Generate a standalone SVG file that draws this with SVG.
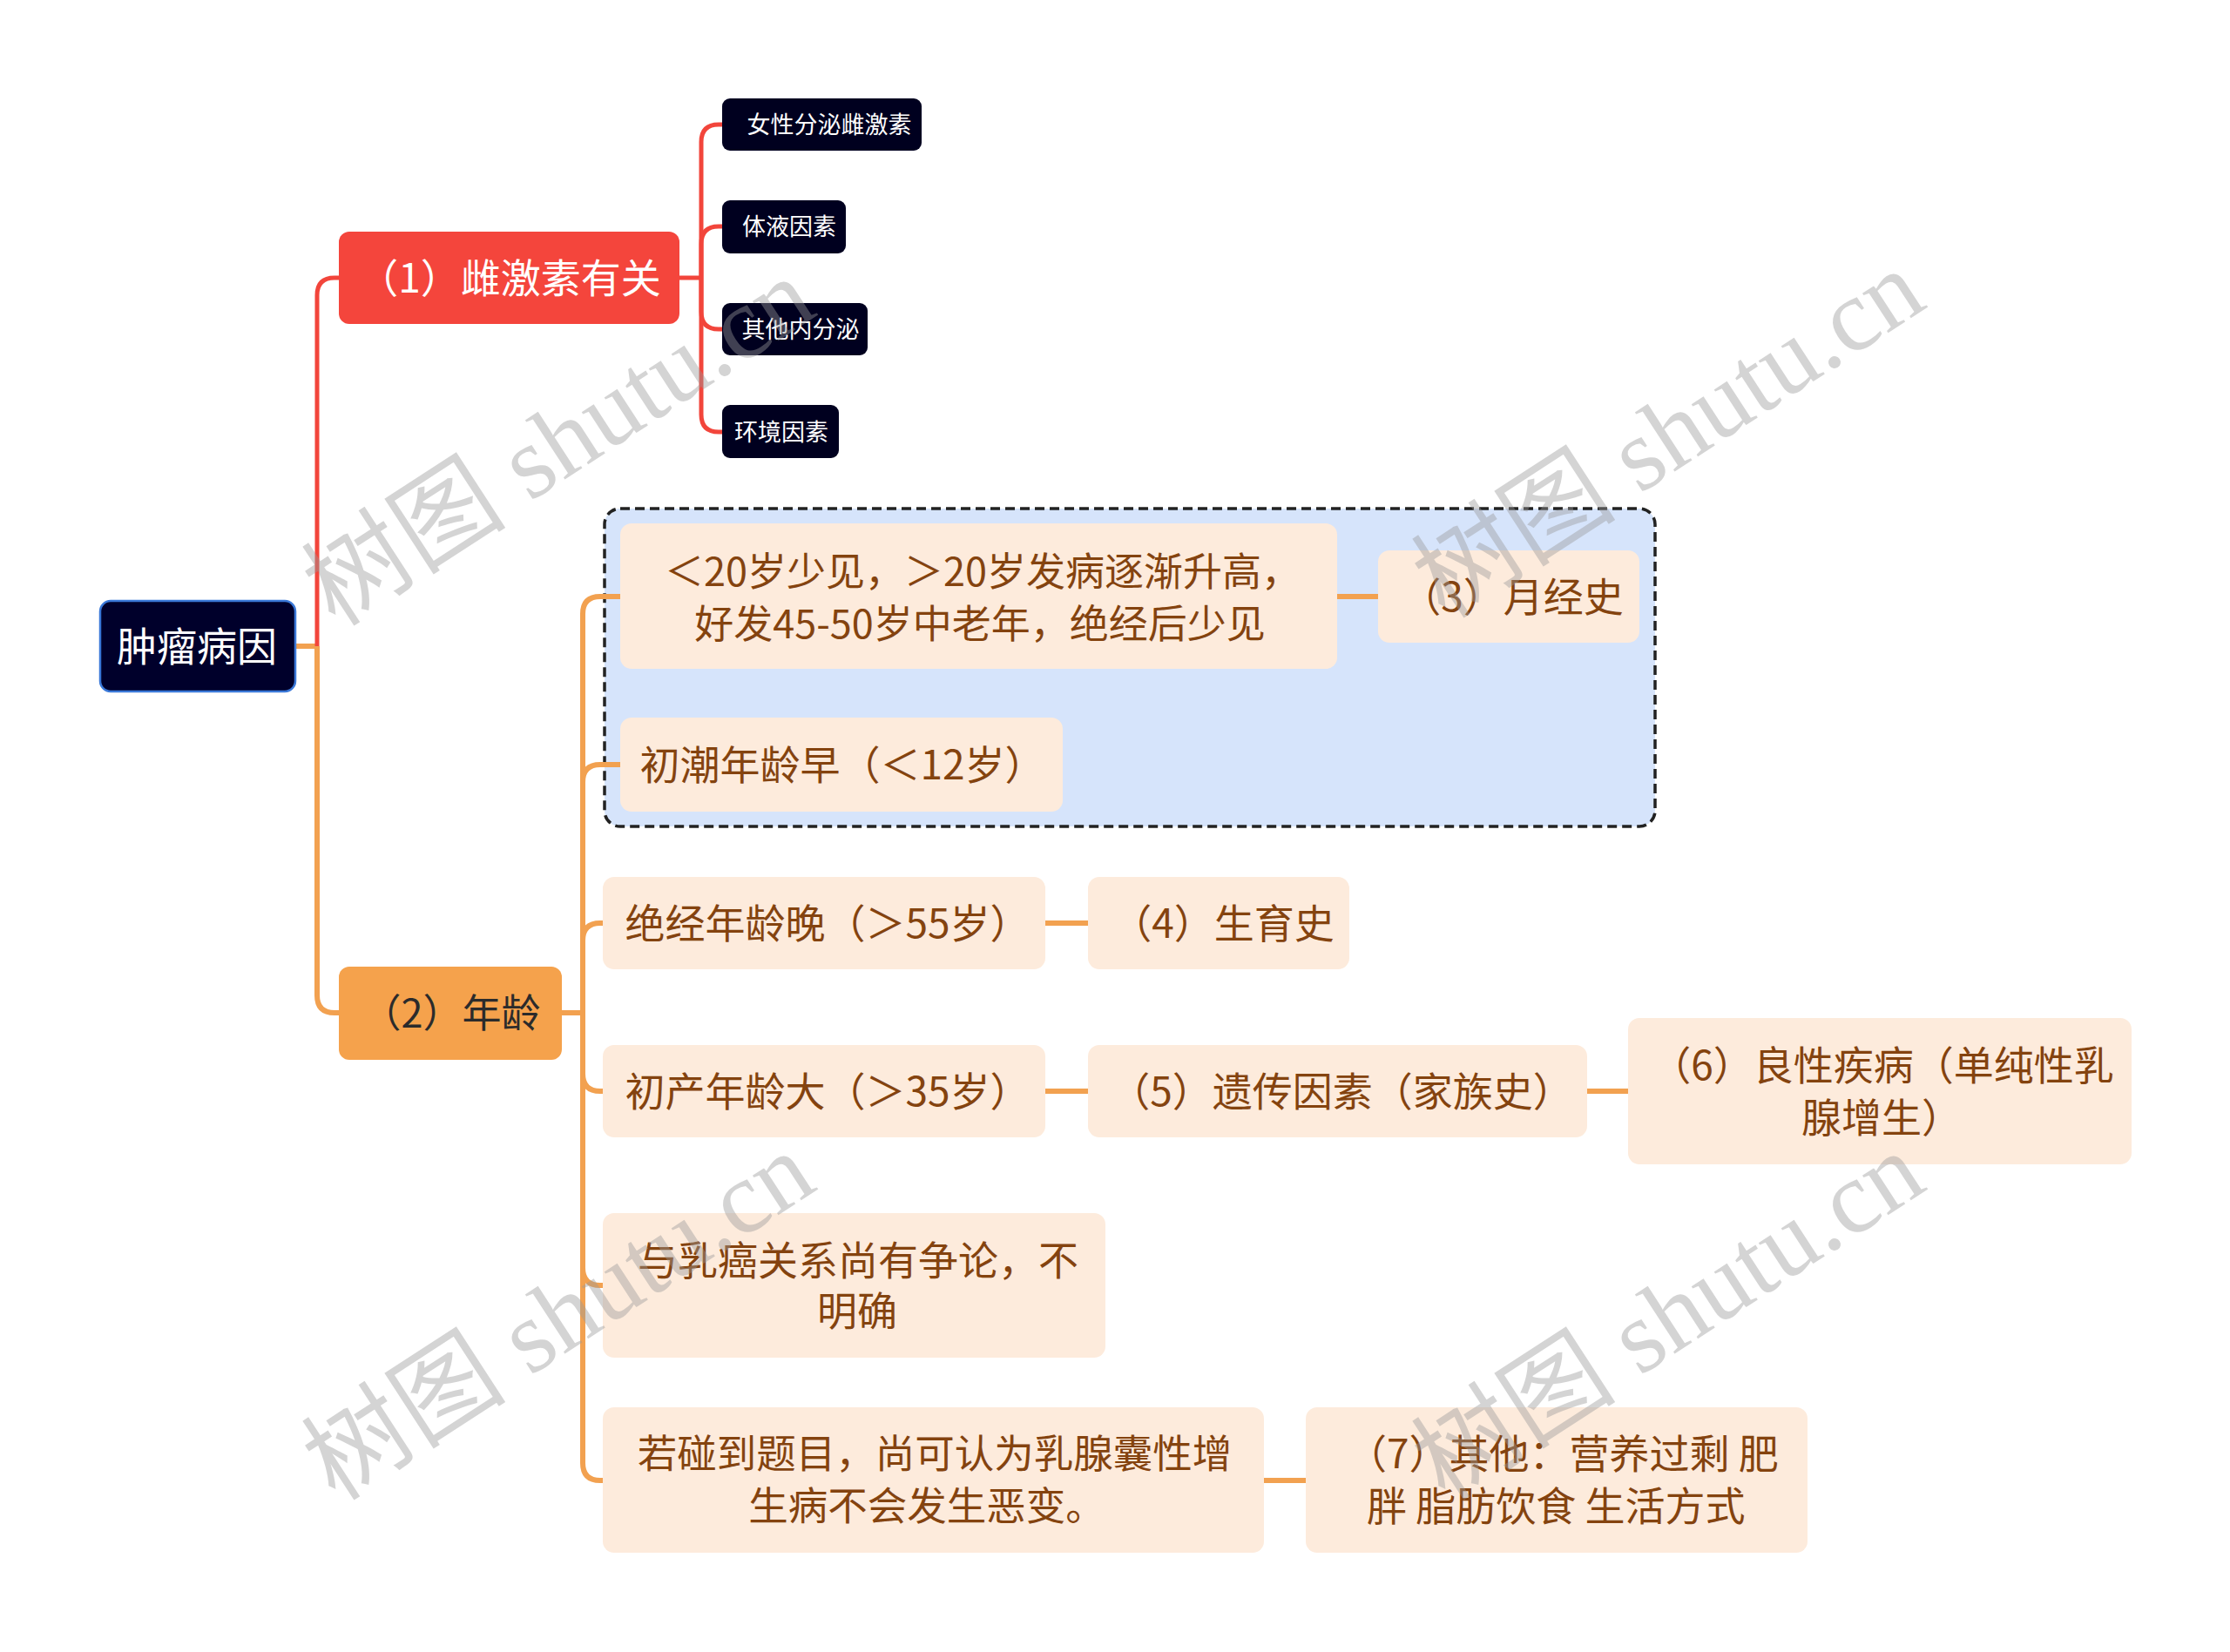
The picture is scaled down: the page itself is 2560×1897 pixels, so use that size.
<svg xmlns="http://www.w3.org/2000/svg" width="2560" height="1897" viewBox="0 0 2560 1897">
<style>
text{font-family:"Noto Sans CJK SC","Noto Sans",sans-serif;text-anchor:middle;dominant-baseline:central}
.wt{fill:#ffffff}
.dk{fill:#2b2b2b}
.br{fill:#84430f}
.peach{fill:#fdebdc}
.dn{fill:#00001f}
.red{fill:none;stroke:#f2453b;stroke-width:5;stroke-linejoin:round}
.org{fill:none;stroke:#f2a150;stroke-width:6;stroke-linejoin:round}
.wm{font-family:"Liberation Serif","Noto Sans CJK SC",serif;font-size:118px;fill:#9a9a9a;opacity:0.42;dominant-baseline:alphabetic}
</style>
<rect width="2560" height="1897" fill="#ffffff"/>

<g id="summary-boundary">
<rect x="694" y="584" width="1206" height="365" rx="18" fill="#d6e4fb" stroke="#222222" stroke-width="3.5" stroke-dasharray="11 6"/>
</g>

<g id="connectors">
<path class="org" d="M340,742 H364"/>
<path class="red" d="M364,742 V339 Q364,319 384,319 H389"/>
<path class="org" d="M364,742 V1143 Q364,1163 384,1163 H389"/>
<path class="red" d="M780,319 H805"/>
<path class="red" d="M805,319 V163 Q805,143 825,143 H829"/>
<path class="red" d="M805,319 V280 Q805,260 825,260 H829"/>
<path class="red" d="M805,319 V358 Q805,378 825,378 H829"/>
<path class="red" d="M805,319 V476 Q805,496 825,496 H829"/>
<path class="org" d="M645,1163 H669"/>
<path class="org" d="M669,1163 V705 Q669,685 689,685 H712"/>
<path class="org" d="M669,1163 V898 Q669,878 689,878 H712"/>
<path class="org" d="M669,1163 V1080 Q669,1060 689,1060 H692"/>
<path class="org" d="M669,1163 V1233 Q669,1253 689,1253 H692"/>
<path class="org" d="M669,1163 V1456 Q669,1476 689,1476 H692"/>
<path class="org" d="M669,1163 V1680 Q669,1700 689,1700 H692"/>
<path class="org" d="M1535,685 H1582"/>
<path class="org" d="M1200,1060 H1249"/>
<path class="org" d="M1200,1253 H1249"/>
<path class="org" d="M1822,1253 H1869"/>
<path class="org" d="M1451,1700 H1499"/>
</g>

<g id="root">
<rect x="115" y="690" width="224" height="104" rx="12" fill="#00002b" stroke="#3a78d8" stroke-width="2.5"/>
<text class="wt" x="226" y="739" font-size="46">肿瘤病因</text>
</g>

<g id="n1">
<rect x="389" y="266" width="391" height="106" rx="12" fill="#f4453c"/>
<text class="wt" x="585" y="316" font-size="46">（1）雌激素有关</text>
</g>
<g id="n1a">
<rect class="dn" x="829" y="113" width="229" height="60" rx="9"/>
<text class="wt" x="952" y="141" font-size="27">女性分泌雌激素</text>
</g>
<g id="n1b">
<rect class="dn" x="829" y="230" width="142" height="61" rx="9"/>
<text class="wt" x="906" y="258" font-size="27">体液因素</text>
</g>
<g id="n1c">
<rect class="dn" x="829" y="348" width="167" height="60" rx="9"/>
<text class="wt" x="919" y="376" font-size="27">其他内分泌</text>
</g>
<g id="n1d">
<rect class="dn" x="829" y="465" width="134" height="61" rx="9"/>
<text class="wt" x="897" y="494" font-size="27">环境因素</text>
</g>

<g id="n2">
<rect x="389" y="1110" width="256" height="107" rx="12" fill="#f5a24c"/>
<text class="dk" x="518" y="1160" font-size="45">（2）年龄</text>
</g>

<g id="a1">
<rect class="peach" x="712" y="601" width="823" height="167" rx="13"/>
<text class="br" x="1128" y="653" font-size="45">＜20岁少见，＞20岁发病逐渐升高，</text>
<text class="br" x="1125" y="713" font-size="45">好发45-50岁中老年，绝经后少见</text>
</g>
<g id="a1r">
<rect class="peach" x="1582" y="632" width="300" height="106" rx="13"/>
<text class="br" x="1736" y="682" font-size="46">（3）月经史</text>
</g>
<g id="a2">
<rect class="peach" x="712" y="824" width="508" height="108" rx="13"/>
<text class="br" x="967" y="875" font-size="46">初潮年龄早（＜12岁）</text>
</g>
<g id="a3">
<rect class="peach" x="692" y="1007" width="508" height="106" rx="13"/>
<text class="br" x="950" y="1057" font-size="46">绝经年龄晚（＞55岁）</text>
</g>
<g id="a3r">
<rect class="peach" x="1249" y="1007" width="300" height="106" rx="13"/>
<text class="br" x="1404" y="1057" font-size="46">（4）生育史</text>
</g>
<g id="a4">
<rect class="peach" x="692" y="1200" width="508" height="106" rx="13"/>
<text class="br" x="950" y="1250" font-size="46">初产年龄大（＞35岁）</text>
</g>
<g id="a4r">
<rect class="peach" x="1249" y="1200" width="573" height="106" rx="13"/>
<text class="br" x="1540" y="1250" font-size="46">（5）遗传因素（家族史）</text>
</g>
<g id="a4rr">
<rect class="peach" x="1869" y="1169" width="578" height="168" rx="13"/>
<text class="br" x="2161" y="1220" font-size="46">（6）良性疾病（单纯性乳</text>
<text class="br" x="2160" y="1280" font-size="46">腺增生）</text>
</g>
<g id="a5">
<rect class="peach" x="692" y="1393" width="577" height="166" rx="13"/>
<text class="br" x="985" y="1444" font-size="46">与乳癌关系尚有争论，不</text>
<text class="br" x="984" y="1502" font-size="46">明确</text>
</g>
<g id="a6">
<rect class="peach" x="692" y="1616" width="759" height="167" rx="13"/>
<text class="br" x="1073" y="1666" font-size="45.5">若碰到题目，尚可认为乳腺囊性增</text>
<text class="br" x="1064" y="1726" font-size="45.5">生病不会发生恶变。</text>
</g>
<g id="a6r">
<rect class="peach" x="1499" y="1616" width="576" height="167" rx="13"/>
<text class="br" x="1546" y="1666" font-size="46" style="text-anchor:start">（7）其他：营养过剩 肥</text>
<text class="br" x="1569" y="1726" font-size="46" style="text-anchor:start">胖 脂肪饮食 生活方式</text>
</g>

<g id="watermarks">
<text class="wm" transform="translate(663,541) rotate(-33)">树图 shutu.cn</text>
<text class="wm" transform="translate(1937,532) rotate(-33)">树图 shutu.cn</text>
<text class="wm" transform="translate(663,1545) rotate(-33)">树图 shutu.cn</text>
<text class="wm" transform="translate(1937,1545) rotate(-33)">树图 shutu.cn</text>
</g>
</svg>
